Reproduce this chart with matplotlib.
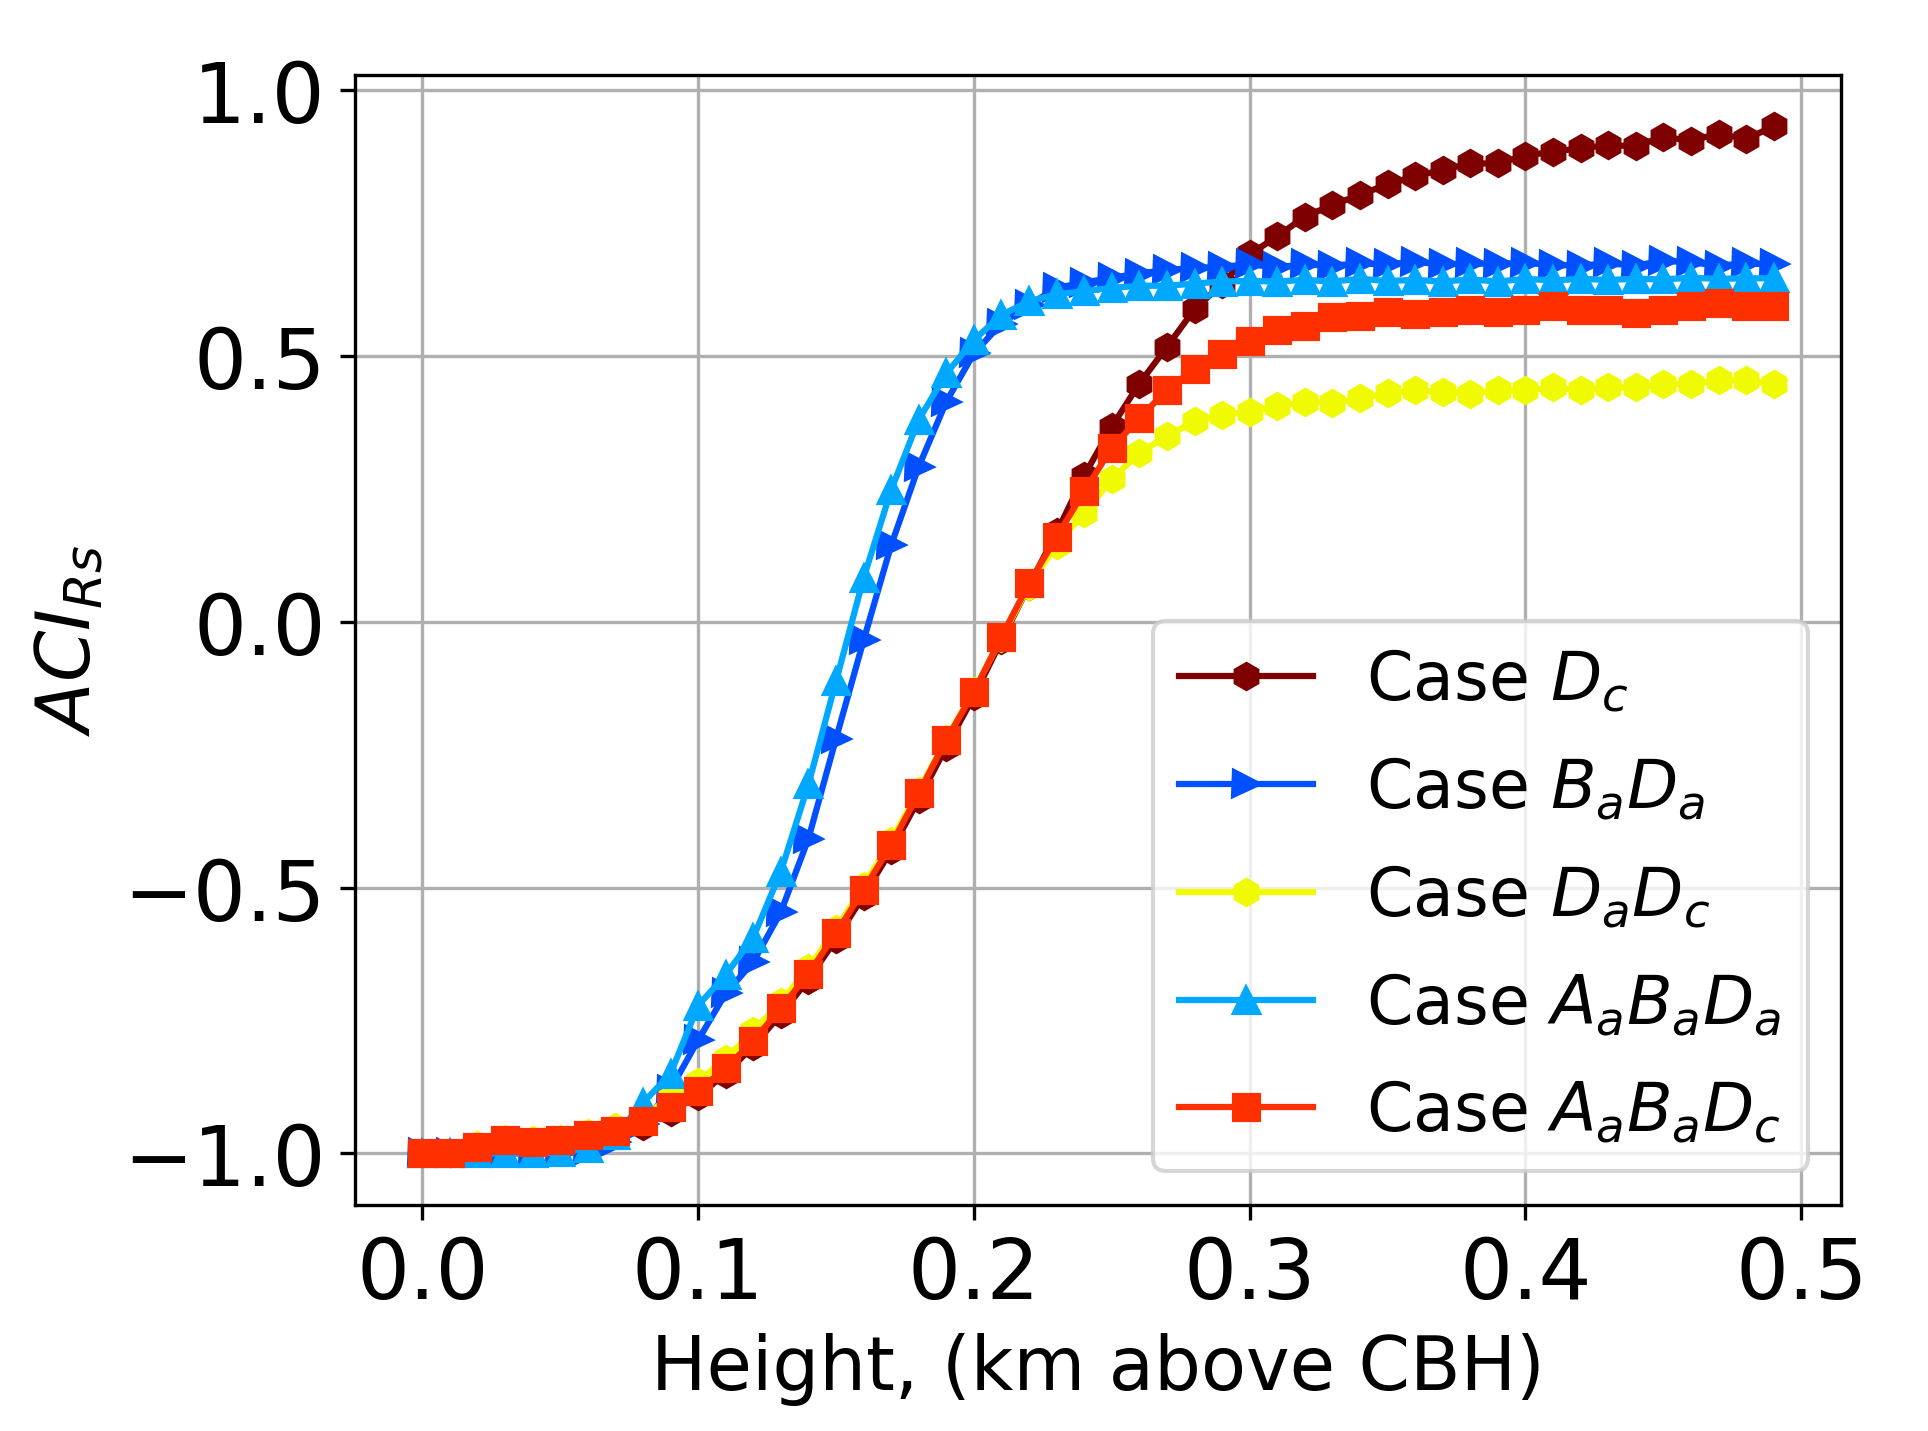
import numpy as np
import matplotlib
matplotlib.use("Agg")
import matplotlib.pyplot as plt

# Height above cloud base (km), 0.00 .. 0.49
height = np.round(np.arange(0, 0.50, 0.01), 2)

# ACI_Rs for each case
aci_dc = [-1.000, -1.000, -0.992, -0.980, -0.984, -0.980, -0.972, -0.963, -0.948, -0.922,
          -0.892, -0.850, -0.798, -0.738, -0.673, -0.597, -0.515, -0.430, -0.334, -0.235,
          -0.140, -0.035, 0.068, 0.168, 0.275, 0.367, 0.448, 0.517, 0.588, 0.635,
          0.691, 0.725, 0.762, 0.784, 0.803, 0.823, 0.838, 0.850, 0.862, 0.862,
          0.877, 0.884, 0.891, 0.896, 0.895, 0.912, 0.905, 0.918, 0.908, 0.932]

aci_bada = [-1.000, -1.000, -1.000, -1.000, -1.000, -1.000, -0.996, -0.978, -0.944, -0.880,
            -0.787, -0.699, -0.640, -0.546, -0.408, -0.220, -0.035, 0.144, 0.292, 0.414,
            0.505, 0.561, 0.596, 0.628, 0.638, 0.647, 0.655, 0.662, 0.665, 0.668,
            0.672, 0.667, 0.672, 0.670, 0.674, 0.672, 0.677, 0.672, 0.674, 0.673,
            0.675, 0.671, 0.670, 0.674, 0.670, 0.679, 0.676, 0.670, 0.674, 0.672]

aci_dadc = [-1.000, -1.000, -0.985, -0.972, -0.975, -0.972, -0.962, -0.950, -0.930, -0.895,
            -0.865, -0.822, -0.770, -0.715, -0.652, -0.578, -0.497, -0.412, -0.318, -0.220,
            -0.130, -0.030, 0.068, 0.145, 0.205, 0.268, 0.318, 0.349, 0.377, 0.389,
            0.395, 0.405, 0.414, 0.411, 0.420, 0.430, 0.435, 0.432, 0.429, 0.435,
            0.435, 0.441, 0.435, 0.441, 0.441, 0.447, 0.447, 0.454, 0.454, 0.447]

aci_aabada = [-1.000, -1.000, -1.000, -1.000, -1.000, -0.998, -0.990, -0.966, -0.905, -0.850,
              -0.722, -0.664, -0.594, -0.470, -0.306, -0.112, 0.082, 0.248, 0.380, 0.467,
              0.530, 0.577, 0.603, 0.616, 0.622, 0.628, 0.632, 0.632, 0.636, 0.640,
              0.641, 0.640, 0.643, 0.640, 0.645, 0.641, 0.643, 0.640, 0.644, 0.640,
              0.645, 0.642, 0.645, 0.643, 0.645, 0.644, 0.647, 0.645, 0.646, 0.646]

aci_aabadc = [-1.000, -1.000, -0.988, -0.975, -0.978, -0.975, -0.966, -0.957, -0.940, -0.912,
              -0.882, -0.840, -0.788, -0.727, -0.662, -0.586, -0.504, -0.420, -0.322, -0.222,
              -0.132, -0.028, 0.072, 0.160, 0.245, 0.327, 0.383, 0.436, 0.476, 0.504,
              0.529, 0.548, 0.557, 0.573, 0.576, 0.582, 0.578, 0.582, 0.587, 0.582,
              0.587, 0.593, 0.587, 0.587, 0.580, 0.587, 0.593, 0.599, 0.593, 0.593]

labels = ['Case $D_c$', 'Case $B_aD_a$', 'Case $D_aD_c$',
          'Case $A_aB_aD_a$', 'Case $A_aB_aD_c$']
colors = ['#7f0000', '#0050ff', '#f0fa00', '#00a8ff', '#ff3000']
markers = ['h', '>', 'h', '^', 's']
series = [aci_dc, aci_bada, aci_dadc, aci_aabada, aci_aabadc]

fig = plt.figure(figsize=(6.4267, 4.7733), dpi=300)
ax = fig.add_axes([0.184, 0.158, 0.771, 0.789])

for vals, lab, col, mk in zip(series, labels, colors, markers):
    ax.plot(height, vals, marker=mk, color=col, label=lab)

ax.grid(True)
ax.set_xticks([0.0, 0.1, 0.2, 0.3, 0.4, 0.5])
ax.set_yticks([-1.0, -0.5, 0.0, 0.5, 1.0])
ax.tick_params(labelsize=20)
ax.set_xlabel('Height, (km above CBH)', fontsize=17.7)
ax.set_ylabel('$ACI_{Rs}$', fontsize=17.7)
ax.legend(loc='lower right', fontsize=16, labelspacing=0.62)

fig.savefig('out.png', dpi=300)
